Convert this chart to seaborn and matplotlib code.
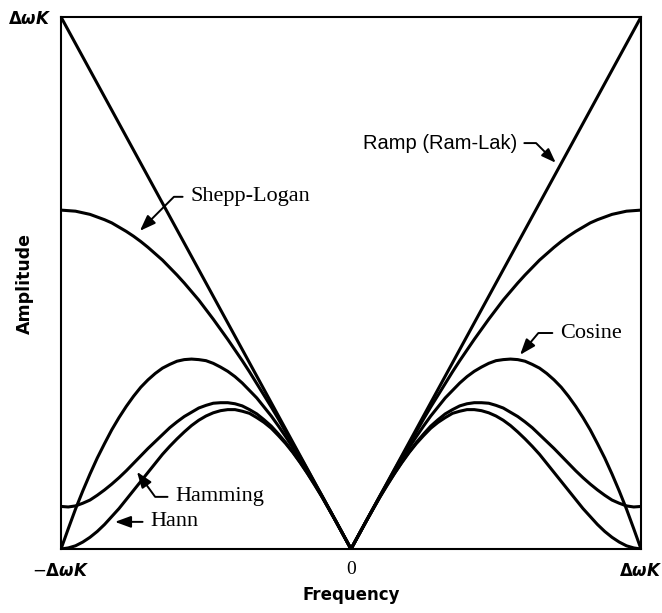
import matplotlib
matplotlib.use("Agg")
import matplotlib.pyplot as plt
import seaborn as sns
import pandas as pd

# Normalised frequency (units of ΔωK), non-negative half; every filter is even
freq_half = [0.000, 0.025, 0.050, 0.075, 0.100, 0.125, 0.150, 0.175, 0.200, 0.225,
             0.250, 0.275, 0.300, 0.325, 0.350, 0.375, 0.400, 0.425, 0.450, 0.475,
             0.500, 0.525, 0.550, 0.575, 0.600, 0.625, 0.650, 0.675, 0.700, 0.725,
             0.750, 0.775, 0.800, 0.825, 0.850, 0.875, 0.900, 0.925, 0.950, 0.975,
             1.000]

ramp_freq = [-1.0, 0.0, 1.0]
ramp_amp = [1.0, 0.0, 1.0]

shepp_logan_half = [0.000, 0.025, 0.050, 0.075, 0.100, 0.124, 0.149, 0.173, 0.197,
                    0.220, 0.244, 0.267, 0.289, 0.311, 0.333, 0.354, 0.374, 0.394,
                    0.413, 0.432, 0.450, 0.468, 0.484, 0.500, 0.515, 0.529, 0.543,
                    0.555, 0.567, 0.578, 0.588, 0.597, 0.605, 0.613, 0.619, 0.624,
                    0.629, 0.632, 0.635, 0.636, 0.637]
cosine_half = [0.000, 0.025, 0.050, 0.075, 0.099, 0.123, 0.146, 0.168, 0.190, 0.211,
               0.231, 0.250, 0.267, 0.284, 0.298, 0.312, 0.324, 0.334, 0.342, 0.349,
               0.354, 0.356, 0.357, 0.356, 0.353, 0.347, 0.340, 0.330, 0.318, 0.304,
               0.287, 0.268, 0.247, 0.224, 0.198, 0.171, 0.141, 0.109, 0.075, 0.038,
               0.000]
hamming_half = [0.000, 0.025, 0.050, 0.074, 0.098, 0.121, 0.142, 0.163, 0.182, 0.200,
                0.216, 0.231, 0.243, 0.254, 0.262, 0.269, 0.273, 0.275, 0.275, 0.274,
                0.270, 0.265, 0.257, 0.249, 0.239, 0.228, 0.215, 0.202, 0.189, 0.175,
                0.161, 0.147, 0.134, 0.122, 0.111, 0.101, 0.092, 0.086, 0.081, 0.079,
                0.080]
hann_half = [0.000, 0.025, 0.050, 0.074, 0.098, 0.120, 0.142, 0.162, 0.181, 0.198,
             0.213, 0.227, 0.238, 0.247, 0.255, 0.259, 0.262, 0.262, 0.260, 0.256,
             0.250, 0.242, 0.232, 0.220, 0.207, 0.193, 0.178, 0.161, 0.144, 0.127,
             0.110, 0.093, 0.076, 0.061, 0.046, 0.033, 0.022, 0.013, 0.006, 0.002,
             0.000]

x_tick_labels = [r"$-\mathbf{\Delta}\mathbfit{\omega K}$", "0",
                 r"$\mathbf{\Delta}\mathbfit{\omega K}$"]
y_tick_label = r"$\mathbf{\Delta}\mathbfit{\omega K}$"


def full_curve(half):
    xs = [-f for f in freq_half[::-1]] + freq_half[1:]
    ys = half[::-1] + half[1:]
    return pd.DataFrame({"Frequency": xs, "Amplitude": ys})


sns.set_theme(style="white")
plt.rcParams["font.family"] = ["DejaVu Sans"]

fig = plt.figure(figsize=(6.62, 6.13), dpi=100)
ax = fig.add_axes([61 / 662, 64 / 613, 580 / 662, 532 / 613])

line_kw = dict(color="black", linewidth=2.2, ax=ax, legend=False,
               solid_joinstyle="round", solid_capstyle="round")
sns.lineplot(data=pd.DataFrame({"Frequency": ramp_freq, "Amplitude": ramp_amp}),
             x="Frequency", y="Amplitude", **line_kw)
for half in (shepp_logan_half, cosine_half, hamming_half, hann_half):
    sns.lineplot(data=full_curve(half), x="Frequency", y="Amplitude",
                 sort=False, **line_kw)

ax.set_xlim(-1, 1)
ax.set_ylim(0, 1)
for side in ("left", "right", "top", "bottom"):
    ax.spines[side].set_visible(True)
    ax.spines[side].set_color("black")
    ax.spines[side].set_linewidth(1.5)

ax.set_xticks([-1, 0, 1])
ax.set_xticklabels(x_tick_labels)
ax.set_yticks([1])
ax.set_yticklabels([y_tick_label])
ax.tick_params(axis="both", length=0, labelsize=12, colors="black")
ax.tick_params(axis="x", pad=9)
ax.tick_params(axis="y", pad=7)
zero_label = ax.get_xticklabels()[1]
zero_label.set_fontfamily("Liberation Serif")
zero_label.set_fontsize(14)

ax.set_xlabel("Frequency", fontsize=12, fontweight="bold", color="black", labelpad=5)
ax.set_ylabel("Amplitude", fontsize=12.5, fontweight="bold", color="black")
ax.yaxis.set_label_coords(-0.047, 0.5)

serif = dict(fontsize=16, family="Liberation Serif", color="black", va="center")
arrow = dict(arrowstyle="-|>,head_length=0.6,head_width=0.22", color="black",
             lw=1.4, shrinkA=3, shrinkB=0)

ax.annotate("Shepp-Logan", xy=(-0.728, 0.598), xytext=(-0.555, 0.662), ha="left",
            arrowprops=dict(connectionstyle="angle,angleA=0,angleB=45,rad=0", **arrow),
            **serif)
ax.annotate("Ramp (Ram-Lak)", xy=(0.706, 0.726), xytext=(0.572, 0.763), ha="right",
            va="center", fontsize=14.5, family="Liberation Sans", color="black",
            arrowprops=dict(connectionstyle="angle,angleA=0,angleB=135,rad=0", **arrow))
ax.annotate("Cosine", xy=(0.583, 0.365), xytext=(0.72, 0.406), ha="left",
            arrowprops=dict(connectionstyle="angle,angleA=0,angleB=50,rad=0", **arrow),
            **serif)
ax.annotate("Hamming", xy=(-0.738, 0.145), xytext=(-0.607, 0.098), ha="left",
            arrowprops=dict(connectionstyle="angle,angleA=0,angleB=-54,rad=0", **arrow),
            **serif)
ax.annotate("Hann", xy=(-0.814, 0.051), xytext=(-0.693, 0.051), ha="left",
            arrowprops=dict(connectionstyle="arc3", **arrow), **serif)

fig.savefig("out.png", dpi=100, facecolor="white")
